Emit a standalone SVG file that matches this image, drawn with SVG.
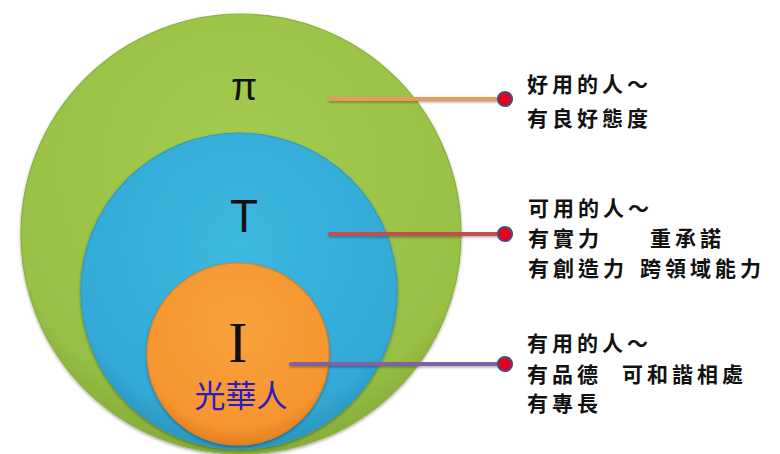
<svg xmlns="http://www.w3.org/2000/svg" width="780" height="454" viewBox="0 0 780 454">
  <defs>
    <radialGradient id="gGreen" cx="50%" cy="35%" r="65%">
      <stop offset="0" stop-color="#a4cc50"/>
      <stop offset="0.85" stop-color="#97c045"/>
      <stop offset="1" stop-color="#86ad38"/>
    </radialGradient>
    <radialGradient id="gBlue" cx="50%" cy="35%" r="65%">
      <stop offset="0" stop-color="#3cb8e0"/>
      <stop offset="0.85" stop-color="#33a9d6"/>
      <stop offset="1" stop-color="#2a95c0"/>
    </radialGradient>
    <radialGradient id="gOrange" cx="50%" cy="35%" r="65%">
      <stop offset="0" stop-color="#f9a13c"/>
      <stop offset="0.85" stop-color="#f6952f"/>
      <stop offset="1" stop-color="#e47f20"/>
    </radialGradient>
    <filter id="sh" x="-10%" y="-10%" width="120%" height="120%">
      <feDropShadow dx="0" dy="1.5" stdDeviation="1.5" flood-color="#000" flood-opacity="0.35"/>
    </filter>
    <filter id="lsh" filterUnits="userSpaceOnUse" x="0" y="0" width="780" height="454">
      <feDropShadow dx="0" dy="1.5" stdDeviation="1" flood-color="#000" flood-opacity="0.3"/>
    </filter>
  </defs>
  <style>
    .ring { stroke-width: 1.2; filter: url(#sh); }
    .conn { fill: none; stroke-width: 4; stroke-linecap: round; filter: url(#lsh); }
    .dot { fill: #e8001c; stroke: #4e4a78; stroke-width: 2.2; }
    .lbl { font-family: "Noto Sans CJK TC", "Noto Sans CJK SC", sans-serif; font-size: 21px; font-weight: 700; fill: #111; letter-spacing: 4px; }
  </style>
  <rect width="780" height="454" fill="#ffffff"/>

  <g id="pi-circle">
    <circle class="ring" cx="241" cy="234" r="220" fill="url(#gGreen)" stroke="#8ab03c"/>
    <text x="244" y="100" text-anchor="middle" font-family="Liberation Sans, Arial, sans-serif" font-size="38" fill="#111">π</text>
  </g>
  <g id="t-circle">
    <circle class="ring" cx="239" cy="291" r="158" fill="url(#gBlue)" stroke="#2e9cc6"/>
    <text x="244" y="232" text-anchor="middle" font-family="Liberation Sans, Arial, sans-serif" font-size="46" fill="#111">T</text>
  </g>
  <g id="i-circle">
    <circle class="ring" cx="238" cy="354" r="91" fill="url(#gOrange)" stroke="#e08424"/>
    <text x="238" y="362" text-anchor="middle" font-family="Liberation Serif, Times New Roman, serif" font-size="58" fill="#111">I</text>
    <text x="241" y="407" text-anchor="middle" font-family="Noto Sans CJK TC, Noto Sans CJK SC, sans-serif" font-size="31" fill="#2a1cc0">光華人</text>
  </g>

  <g id="connectors">
    <line class="conn" x1="330" y1="99" x2="502" y2="99" stroke="#eb9a5a"/>
    <line class="conn" x1="330" y1="234" x2="502" y2="234" stroke="#c0504d"/>
    <line class="conn" x1="291" y1="364" x2="502" y2="364" stroke="#8064a2"/>
    <circle class="dot" cx="505" cy="99" r="7"/>
    <circle class="dot" cx="505" cy="234" r="7"/>
    <circle class="dot" cx="505" cy="364" r="7"/>
  </g>

  <g id="label-pi">
    <text class="lbl" x="527" y="92">好用的人～</text>
    <text class="lbl" x="527" y="126">有良好態度</text>
  </g>
  <g id="label-t">
    <text class="lbl" x="528" y="216">可用的人～</text>
    <text class="lbl" y="246"><tspan x="528">有實力</tspan><tspan x="650">重承諾</tspan></text>
    <text class="lbl" y="276"><tspan x="528">有創造力</tspan><tspan x="640">跨領域能力</tspan></text>
  </g>
  <g id="label-i">
    <text class="lbl" x="527" y="351">有用的人～</text>
    <text class="lbl" y="382"><tspan x="527">有品德</tspan><tspan x="622">可和諧相處</tspan></text>
    <text class="lbl" x="527" y="411">有專長</text>
  </g>
</svg>
